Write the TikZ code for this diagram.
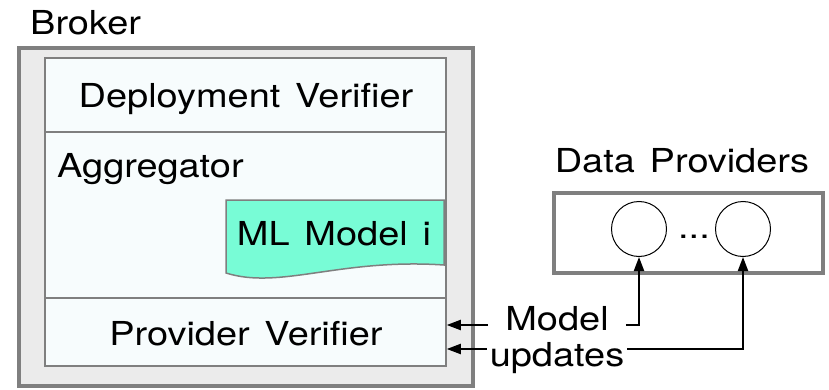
\documentclass[tikz,border=0pt]{standalone}
\usepackage{fontspec}
\setmainfont{TeX Gyre Heros}[FakeStretch=1.15, WordSpace=1.4]
\usetikzlibrary{arrows.meta}

\definecolor{brokerfill}{HTML}{EBEBEB}
\definecolor{framegray}{HTML}{7F7F7F}
\definecolor{panelfill}{HTML}{F7FCFD}
\definecolor{modelgreen}{HTML}{78FCD6}

\tikzset{
  bigtext/.style={font=\fontsize{33}{38}\selectfont, inner sep=0pt},
  panel/.style={draw=framegray, line width=1.5pt, fill=panelfill, minimum width=401pt},
  frame/.style={draw=framegray, line width=4pt},
  provider/.style={circle, draw, line width=1pt, fill=white, minimum size=55pt, inner sep=0pt},
  update/.style={line width=2pt, -{Triangle[length=14pt,width=10pt]}},
}

\begin{document}
\begin{tikzpicture}[x=1pt,y=-1pt]
\useasboundingbox (0,0) rectangle (829,390);

% broker
\node[frame, fill=brokerfill, minimum width=454pt, minimum height=338pt] (broker) at (246,217) {};
\node[bigtext, anchor=base west] (brokerlabel) at (30,35) {Broker};

\node[panel, minimum height=74pt] (deploy) at (245.5,95) {};
\node[bigtext, anchor=base] (deploylabel) at (246,108) {Deployment Verifier};

\node[panel, minimum height=166pt] (agg) at (245.5,215) {};
\node[bigtext, anchor=base west] (agglabel) at (57,178) {Aggregator};

\node[panel, minimum height=68pt] (prov) at (245.5,332) {};
\node[bigtext, anchor=base] (provlabel) at (246,345) {Provider Verifier};

% ML model
\draw[draw=framegray, line width=1.5pt, fill=modelgreen]
  (226,200) -- (444,200) -- (444,265)
  .. controls (340,258) and (280,290) .. (226,273) -- cycle;
\node[bigtext, anchor=base] (mlmodel) at (334,245) {ML Model i};

% data providers
\node[bigtext, anchor=base] (dplabel) at (682,173) {Data Providers};
\node[frame, fill=white, minimum width=269pt, minimum height=80pt] (dp) at (688.5,233) {};
\node[provider] (prov1) at (639,229) {};
\node[provider] (provn) at (743,229) {};
\node[bigtext, anchor=base] (dots) at (694,238) {...};

% model updates
\node[bigtext, anchor=base, inner xsep=17pt] (model) at (557,330) {Model};
\node[bigtext, anchor=base, inner xsep=3pt] (updates) at (557,366) {updates};

\coordinate (row1) at (0,325);
\coordinate (row2) at (0,349);

\draw[update] (model.west |- row1) -- (prov.east |- row1);
\draw[update] (model.east |- row1) -| (prov1.south);
\draw[update] (updates.west |- row2) -- (prov.east |- row2);
\draw[update] (updates.east |- row2) -| (provn.south);

\end{tikzpicture}
\end{document}
